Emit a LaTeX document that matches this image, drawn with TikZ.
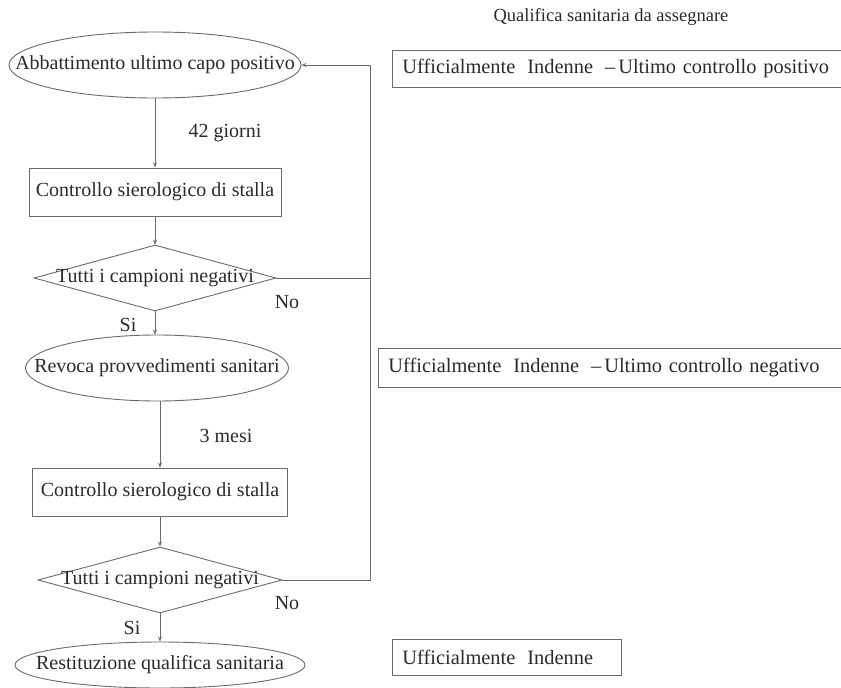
\documentclass[tikz,border=0pt]{standalone}
\usepackage{fontspec}
\setmainfont{Liberation Serif}
\usetikzlibrary{shapes.geometric,arrows.meta}
\definecolor{linegray}{HTML}{6A6A6A}
\definecolor{txtgray}{HTML}{2A2A2A}
\tikzset{
  conn/.style={draw=linegray, line width=0.9pt},
  arr/.style={conn, -{Stealth[length=5pt,width=4pt]}},
  ell/.style={ellipse, draw=linegray, line width=0.9pt, inner sep=0pt},
  procbox/.style={rectangle, draw=linegray, line width=0.9pt, inner sep=0pt, text=txtgray},
  dia/.style={diamond, draw=linegray, line width=0.9pt, inner sep=0pt},
  qualbox/.style={rectangle, draw=linegray, line width=0.9pt, inner ysep=0pt, inner xsep=10pt, align=left, anchor=west, text=txtgray, font=\fontsize{20.4}{24}\selectfont},
  lbl/.style={text=txtgray, inner sep=0pt}
}
\newcommand{\gapw}{\hspace{12pt}}
\newcommand{\dashgap}{\hspace{3pt}}
\begin{document}
\begin{tikzpicture}[x=1pt, y=-1pt, font=\fontsize{20}{24}\selectfont]
\useasboundingbox (0,0) rectangle (841,688);
\clip (0,0) rectangle (841,688);
% title
\node[lbl, font=\fontsize{18.5}{22}\selectfont] (title) at (611,17) {Qualifica sanitaria da assegnare};
% left column
\node[ell, minimum width=292pt, minimum height=66pt] (e1) at (155,65) {};
\node[lbl] (e1t) at (e1.center) {Abbattimento ultimo capo positivo};
\node[procbox, minimum width=252pt, minimum height=48pt] (b1) at (155,192) {Controllo sierologico di stalla};
\node[dia, minimum width=242pt, minimum height=66pt] (d1) at (155,278) {};
\node[lbl] (d1t) at (d1.center) {Tutti i campioni negativi};
\node[ell, minimum width=263pt, minimum height=66pt] (e2) at (157,368) {};
\node[lbl] (e2t) at (e2.center) {Revoca provvedimenti sanitari};
\node[procbox, minimum width=255pt, minimum height=48pt] (b2) at (160,492) {Controllo sierologico di stalla};
\node[dia, minimum width=244pt, minimum height=66pt] (d2) at (160,580) {};
\node[lbl] (d2t) at (d2.center) {Tutti i campioni negativi};
\node[ell, minimum width=290pt, minimum height=46pt] (e3) at (160,665) {};
\node[lbl] (e3t) at (e3.center) {Restituzione qualifica sanitaria};
% labels
\node[lbl] (l42) at (225,133) {42 giorni};
\node[lbl] (l3m) at (226,436) {3 mesi};
\node[lbl] (no1) at (287,302) {No};
\node[lbl] (si1) at (128,325) {Si};
\node[lbl] (no2) at (287,603) {No};
\node[lbl] (si2) at (132,628) {Si};
% right boxes
\node[qualbox, text width=441pt, minimum height=37pt] (q1) at (392,68.5) {Ufficialmente\gapw{}Indenne\gapw{}–\dashgap{}Ultimo controllo positivo};
\node[qualbox, text width=455pt, minimum height=39pt] (q2) at (378,367.5) {Ufficialmente\gapw{}Indenne\gapw{}–\dashgap{}Ultimo controllo negativo};
\node[qualbox, text width=209pt, minimum height=36pt] (q3) at (392,657) {Ufficialmente\gapw{}Indenne};
% connectors
\coordinate (jtop) at (370,65);
\coordinate (j1) at (370,278);
\coordinate (j2) at (370,580);
\draw[arr] (e1.south) -- (e1.south |- b1.north);
\draw[arr] (b1.south) -- (b1.south |- d1.north);
\draw[arr] (d1.south) -- (d1.south |- e2.north);
\draw[arr] (e2.south -| b2.north) -- (b2.north);
\draw[arr] (b2.south) -- (b2.south |- d2.north);
\draw[arr] (d2.south) -- (d2.south |- e3.north);
\draw[conn] (d1.east) -- (j1);
\draw[arr] (d2.east) -- (j2) -- (jtop) -- (e1.east);
\end{tikzpicture}
\end{document}
